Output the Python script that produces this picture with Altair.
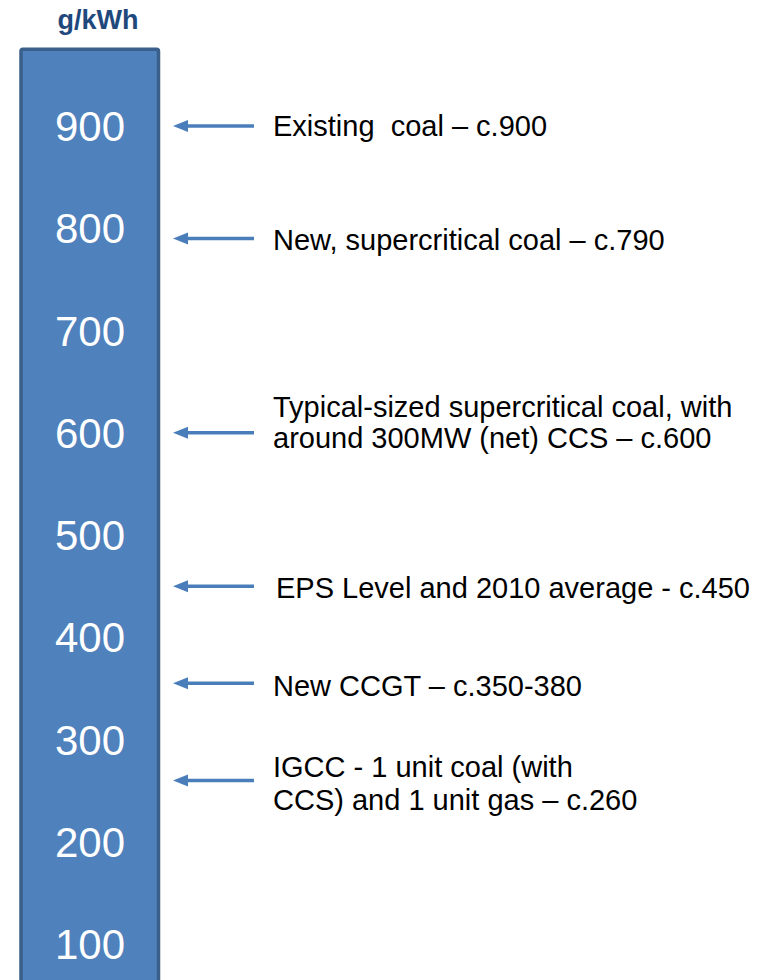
import altair as alt
import pandas as pd

# Intensity scale printed down the column (g/kWh)
scale_ticks = [900, 800, 700, 600, 500, 400, 300, 200, 100]

# Generation technologies and their approximate CO2 intensity (g/kWh)
plant_labels = [
    ["Existing\u00a0 coal – c.900"],
    ["New, supercritical coal – c.790"],
    ["Typical-sized supercritical coal, with", "around 300MW (net) CCS – c.600"],
    ["EPS Level and 2010 average - c.450"],
    ["New CCGT – c.350-380"],
    ["IGCC - 1 unit coal (with", "CCS) and 1 unit gas – c.260"],
]
plant_values = [900, 790, 600, 450, 355, 260]

# Extent of the graduated column (g/kWh)
column_top = [975]
column_bottom = [40]

# Layout / styling
W, H = 769, 980
PX_PER_UNIT = 1.0225
Y900_PX = 126
Y_TOP = 900 + Y900_PX / PX_PER_UNIT
Y_BOTTOM = 900 - (H - Y900_PX) / PX_PER_UNIT
label_dy = [1, 3, -25, 3, 4, -12]
label_x = [273, 273, 273, 276, 273, 273]
label_line_height = [31, 31, 31, 31, 31, 33]

FILL = "#4F81BD"
EDGE = "#3A5F8B"
ARROW = "#4A7EBB"
FONT = "Liberation Sans"

y_scale = alt.Scale(domain=[Y_BOTTOM, Y_TOP], range=[H, 0], nice=False, zero=False)

ticks_df = pd.DataFrame({"v": scale_ticks, "t": [str(v) for v in scale_ticks]})
plants_df = pd.DataFrame({"i": list(range(len(plant_values))), "v": plant_values, "label": plant_labels})
column_df = pd.DataFrame({"top": column_top, "bottom": column_bottom})

column = alt.Chart(column_df).mark_rect(
    fill=FILL, stroke=EDGE, strokeWidth=3.5, cornerRadius=2, clip=True
).encode(
    x=alt.value(21),
    x2=alt.value(158.5),
    y=alt.Y("top:Q", scale=y_scale, axis=None),
    y2="bottom:Q",
)

tick_text = alt.Chart(ticks_df).mark_text(
    font=FONT, fontSize=42, color="white", align="center", baseline="middle", dy=2
).encode(
    x=alt.value(90),
    y=alt.Y("v:Q", scale=y_scale, axis=None),
    text="t:N",
)

shaft = alt.Chart(plants_df).mark_rule(color=ARROW, strokeWidth=3.5).encode(
    x=alt.value(184),
    x2=alt.value(254),
    y=alt.Y("v:Q", scale=y_scale, axis=None),
)

head = alt.Chart(plants_df).mark_point(
    shape="M -1 0 L 1 -0.8 L 1 0.8 Z", filled=True, opacity=1, color=ARROW, size=225
).encode(
    x=alt.value(180.5),
    y=alt.Y("v:Q", scale=y_scale, axis=None),
)

# One text layer per technology so each label block can sit on its own offset
label_layers = []
for i in range(len(plant_values)):
    label_layers.append(
        alt.Chart(plants_df).transform_filter(alt.datum.i == i).mark_text(
            font=FONT, fontSize=29, color="black", align="left", baseline="middle",
            lineHeight=label_line_height[i], dy=label_dy[i],
        ).encode(
            x=alt.value(label_x[i]),
            y=alt.Y("v:Q", scale=y_scale, axis=None),
            text="label",
        )
    )

unit_title = alt.Chart(pd.DataFrame({"t": ["g/kWh"]})).mark_text(
    font=FONT, fontSize=27, fontWeight="bold", color="#1F497D",
    align="center", baseline="middle",
).encode(
    x=alt.value(98),
    y=alt.value(21),
    text="t:N",
)

chart = alt.layer(column, tick_text, shaft, head, *label_layers, unit_title).properties(
    width=W, height=H, padding=0, autosize=alt.AutoSizeParams(type="none")
).configure_view(stroke=None)

chart.save("out.html", embed_options={"renderer": "svg", "actions": False})
